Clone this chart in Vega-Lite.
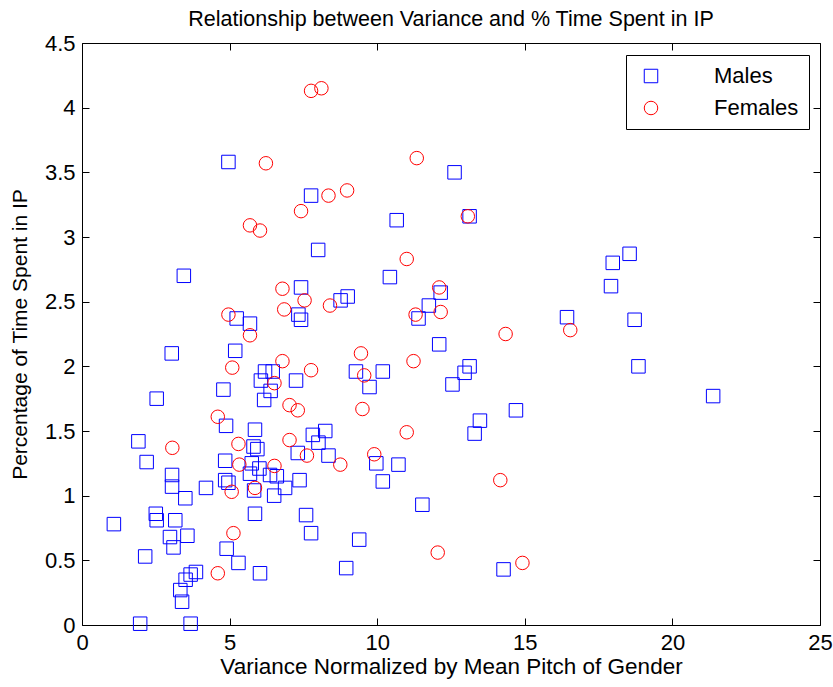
{
  "$schema": "https://vega.github.io/schema/vega-lite/v6.json",
  "width": 738,
  "height": 582,
  "autosize": "none",
  "padding": {"left": 82, "top": 43, "right": 13, "bottom": 62},
  "background": "white",
  "config": {
    "view": {"stroke": null},
    "font": "Liberation Sans",
    "axis": {"grid": false, "domainColor": "black", "tickColor": "black", "labelColor": "black", "titleColor": "black", "labelFont": "Liberation Sans", "titleFont": "Liberation Sans", "labelFontSize": 22, "titleFontSize": 21, "titleFontWeight": "normal", "tickSize": -7, "domainWidth": 1, "tickWidth": 1}
  },
  "title": {"text": "Relationship between Variance and % Time Spent in IP", "font": "Liberation Sans", "fontSize": 21.5, "fontWeight": "normal", "color": "black", "offset": 2},
  "data": {"values": [
    {"x": 4.96, "y": 3.58, "g": "Males"},
    {"x": 7.76, "y": 3.32, "g": "Males"},
    {"x": 8.0, "y": 2.9, "g": "Males"},
    {"x": 3.45, "y": 2.7, "g": "Males"},
    {"x": 7.42, "y": 2.61, "g": "Males"},
    {"x": 5.24, "y": 2.37, "g": "Males"},
    {"x": 5.69, "y": 2.33, "g": "Males"},
    {"x": 7.33, "y": 2.4, "g": "Males"},
    {"x": 7.42, "y": 2.36, "g": "Males"},
    {"x": 12.62, "y": 3.5, "g": "Males"},
    {"x": 10.66, "y": 3.13, "g": "Males"},
    {"x": 13.13, "y": 3.16, "g": "Males"},
    {"x": 10.43, "y": 2.69, "g": "Males"},
    {"x": 8.76, "y": 2.51, "g": "Males"},
    {"x": 9.0, "y": 2.54, "g": "Males"},
    {"x": 12.15, "y": 2.57, "g": "Males"},
    {"x": 11.75, "y": 2.47, "g": "Males"},
    {"x": 11.4, "y": 2.37, "g": "Males"},
    {"x": 16.43, "y": 2.38, "g": "Males"},
    {"x": 12.1, "y": 2.17, "g": "Males"},
    {"x": 18.55, "y": 2.87, "g": "Males"},
    {"x": 17.98, "y": 2.8, "g": "Males"},
    {"x": 17.92, "y": 2.62, "g": "Males"},
    {"x": 18.72, "y": 2.36, "g": "Males"},
    {"x": 18.85, "y": 2.0, "g": "Males"},
    {"x": 21.38, "y": 1.77, "g": "Males"},
    {"x": 9.28, "y": 1.96, "g": "Males"},
    {"x": 10.19, "y": 1.96, "g": "Males"},
    {"x": 9.74, "y": 1.84, "g": "Males"},
    {"x": 13.13, "y": 2.0, "g": "Males"},
    {"x": 12.96, "y": 1.95, "g": "Males"},
    {"x": 12.55, "y": 1.86, "g": "Males"},
    {"x": 14.7, "y": 1.66, "g": "Males"},
    {"x": 13.48, "y": 1.58, "g": "Males"},
    {"x": 13.3, "y": 1.48, "g": "Males"},
    {"x": 8.24, "y": 1.5, "g": "Males"},
    {"x": 8.01, "y": 1.41, "g": "Males"},
    {"x": 8.35, "y": 1.31, "g": "Males"},
    {"x": 9.97, "y": 1.25, "g": "Males"},
    {"x": 10.72, "y": 1.24, "g": "Males"},
    {"x": 10.19, "y": 1.11, "g": "Males"},
    {"x": 11.53, "y": 0.93, "g": "Males"},
    {"x": 9.39, "y": 0.66, "g": "Males"},
    {"x": 8.95, "y": 0.44, "g": "Males"},
    {"x": 14.28, "y": 0.43, "g": "Males"},
    {"x": 3.04, "y": 2.1, "g": "Males"},
    {"x": 5.19, "y": 2.12, "g": "Males"},
    {"x": 2.53, "y": 1.75, "g": "Males"},
    {"x": 1.91, "y": 1.42, "g": "Males"},
    {"x": 2.19, "y": 1.26, "g": "Males"},
    {"x": 3.05, "y": 1.16, "g": "Males"},
    {"x": 3.05, "y": 1.07, "g": "Males"},
    {"x": 3.5, "y": 0.98, "g": "Males"},
    {"x": 4.2, "y": 1.06, "g": "Males"},
    {"x": 1.08, "y": 0.78, "g": "Males"},
    {"x": 2.5, "y": 0.86, "g": "Males"},
    {"x": 2.53, "y": 0.81, "g": "Males"},
    {"x": 3.16, "y": 0.81, "g": "Males"},
    {"x": 2.98, "y": 0.68, "g": "Males"},
    {"x": 3.1, "y": 0.6, "g": "Males"},
    {"x": 3.57, "y": 0.69, "g": "Males"},
    {"x": 2.14, "y": 0.53, "g": "Males"},
    {"x": 3.86, "y": 0.41, "g": "Males"},
    {"x": 3.68, "y": 0.39, "g": "Males"},
    {"x": 3.51, "y": 0.35, "g": "Males"},
    {"x": 3.33, "y": 0.27, "g": "Males"},
    {"x": 3.39, "y": 0.18, "g": "Males"},
    {"x": 1.97, "y": 0.01, "g": "Males"},
    {"x": 3.68, "y": 0.01, "g": "Males"},
    {"x": 4.9, "y": 0.59, "g": "Males"},
    {"x": 5.3, "y": 0.48, "g": "Males"},
    {"x": 6.03, "y": 0.4, "g": "Males"},
    {"x": 5.86, "y": 0.86, "g": "Males"},
    {"x": 7.59, "y": 0.85, "g": "Males"},
    {"x": 7.76, "y": 0.71, "g": "Males"},
    {"x": 4.79, "y": 1.82, "g": "Males"},
    {"x": 4.88, "y": 1.54, "g": "Males"},
    {"x": 6.2, "y": 1.96, "g": "Males"},
    {"x": 6.46, "y": 1.96, "g": "Males"},
    {"x": 6.06, "y": 1.89, "g": "Males"},
    {"x": 7.25, "y": 1.89, "g": "Males"},
    {"x": 6.39, "y": 1.81, "g": "Males"},
    {"x": 6.17, "y": 1.74, "g": "Males"},
    {"x": 5.86, "y": 1.51, "g": "Males"},
    {"x": 5.81, "y": 1.38, "g": "Males"},
    {"x": 5.94, "y": 1.36, "g": "Males"},
    {"x": 7.82, "y": 1.47, "g": "Males"},
    {"x": 7.31, "y": 1.33, "g": "Males"},
    {"x": 5.75, "y": 1.25, "g": "Males"},
    {"x": 6.01, "y": 1.21, "g": "Males"},
    {"x": 5.69, "y": 1.17, "g": "Males"},
    {"x": 6.37, "y": 1.16, "g": "Males"},
    {"x": 6.6, "y": 1.15, "g": "Males"},
    {"x": 6.88, "y": 1.06, "g": "Males"},
    {"x": 7.37, "y": 1.12, "g": "Males"},
    {"x": 6.51, "y": 1.0, "g": "Males"},
    {"x": 5.83, "y": 1.04, "g": "Males"},
    {"x": 4.85, "y": 1.27, "g": "Males"},
    {"x": 4.85, "y": 1.12, "g": "Males"},
    {"x": 4.96, "y": 1.1, "g": "Males"},
    {"x": 7.76, "y": 4.13, "g": "Females"},
    {"x": 8.11, "y": 4.15, "g": "Females"},
    {"x": 6.23, "y": 3.57, "g": "Females"},
    {"x": 8.35, "y": 3.32, "g": "Females"},
    {"x": 7.42, "y": 3.2, "g": "Females"},
    {"x": 5.69, "y": 3.09, "g": "Females"},
    {"x": 6.03, "y": 3.05, "g": "Females"},
    {"x": 6.79, "y": 2.6, "g": "Females"},
    {"x": 7.54, "y": 2.51, "g": "Females"},
    {"x": 6.85, "y": 2.44, "g": "Females"},
    {"x": 8.4, "y": 2.47, "g": "Females"},
    {"x": 4.96, "y": 2.4, "g": "Females"},
    {"x": 5.69, "y": 2.24, "g": "Females"},
    {"x": 11.34, "y": 3.61, "g": "Females"},
    {"x": 8.98, "y": 3.36, "g": "Females"},
    {"x": 13.07, "y": 3.16, "g": "Females"},
    {"x": 11.0, "y": 2.83, "g": "Females"},
    {"x": 12.1, "y": 2.61, "g": "Females"},
    {"x": 12.15, "y": 2.42, "g": "Females"},
    {"x": 11.3, "y": 2.4, "g": "Females"},
    {"x": 14.35, "y": 2.25, "g": "Females"},
    {"x": 16.54, "y": 2.28, "g": "Females"},
    {"x": 9.45, "y": 2.1, "g": "Females"},
    {"x": 11.23, "y": 2.04, "g": "Females"},
    {"x": 9.56, "y": 1.93, "g": "Females"},
    {"x": 9.5, "y": 1.67, "g": "Females"},
    {"x": 11.0, "y": 1.49, "g": "Females"},
    {"x": 8.75, "y": 1.24, "g": "Females"},
    {"x": 9.9, "y": 1.32, "g": "Females"},
    {"x": 14.17, "y": 1.12, "g": "Females"},
    {"x": 12.05, "y": 0.56, "g": "Females"},
    {"x": 14.92, "y": 0.48, "g": "Females"},
    {"x": 5.09, "y": 1.99, "g": "Females"},
    {"x": 6.79, "y": 2.04, "g": "Females"},
    {"x": 7.76, "y": 1.97, "g": "Females"},
    {"x": 6.52, "y": 1.87, "g": "Females"},
    {"x": 7.03, "y": 1.7, "g": "Females"},
    {"x": 7.31, "y": 1.66, "g": "Females"},
    {"x": 4.6, "y": 1.61, "g": "Females"},
    {"x": 3.06, "y": 1.37, "g": "Females"},
    {"x": 5.3, "y": 1.4, "g": "Females"},
    {"x": 5.33, "y": 1.24, "g": "Females"},
    {"x": 5.07, "y": 1.03, "g": "Females"},
    {"x": 7.03, "y": 1.43, "g": "Females"},
    {"x": 7.62, "y": 1.31, "g": "Females"},
    {"x": 6.52, "y": 1.23, "g": "Females"},
    {"x": 5.86, "y": 1.06, "g": "Females"},
    {"x": 5.13, "y": 0.71, "g": "Females"},
    {"x": 4.6, "y": 0.4, "g": "Females"}
  ]},
  "layer": [
    {
      "mark": {"type": "point", "filled": false, "size": 182, "strokeWidth": 1, "opacity": 1},
      "encoding": {
        "x": {"field": "x", "type": "quantitative", "scale": {"domain": [0, 25], "nice": false, "zero": false},
              "axis": {"orient": "bottom", "values": [0, 5, 10, 15, 20, 25], "title": "Variance Normalized by Mean Pitch of Gender", "titleFontSize": 22.5, "labelPadding": 14, "titlePadding": 2, "labelFlush": false}},
        "y": {"field": "y", "type": "quantitative", "scale": {"domain": [0, 4.5], "nice": false, "zero": false},
              "axis": {"orient": "left", "values": [0, 0.5, 1, 1.5, 2, 2.5, 3, 3.5, 4, 4.5], "format": "~g", "title": "Percentage of Time Spent in IP", "labelPadding": 14, "titlePadding": 14, "labelFlush": false}},
        "color": {"field": "g", "type": "nominal", "scale": {"domain": ["Males", "Females"], "range": ["#0000ff", "#ff0000"]},
                  "legend": {"orient": "none", "legendX": 544, "legendY": 12, "title": null, "strokeColor": "black", "fillColor": "white", "padding": 10, "labelFontSize": 22, "labelFont": "Liberation Sans", "labelColor": "black", "labelOffset": 52, "symbolOffset": 4, "rowPadding": 10, "symbolSize": 182, "symbolStrokeWidth": 1, "cornerRadius": 0}},
        "shape": {"field": "g", "type": "nominal", "scale": {"domain": ["Males", "Females"], "range": ["square", "circle"]}}
      }
    },
    {
      "mark": {"type": "point", "opacity": 0},
      "encoding": {
        "x": {"field": "x", "type": "quantitative", "axis": {"orient": "top", "values": [0, 5, 10, 15, 20, 25], "labels": false, "title": null}},
        "y": {"field": "y", "type": "quantitative", "axis": {"orient": "right", "values": [0, 0.5, 1, 1.5, 2, 2.5, 3, 3.5, 4, 4.5], "labels": false, "title": null}}
      }
    }
  ],
  "resolve": {"axis": {"x": "independent", "y": "independent"}}
}
